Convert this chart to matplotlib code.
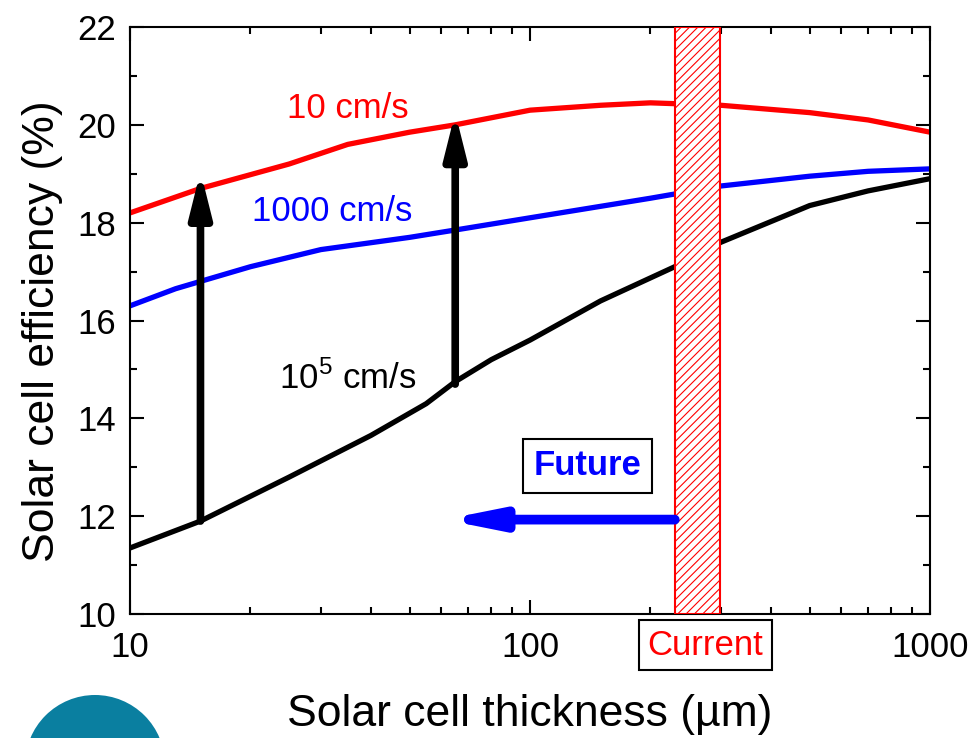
import matplotlib
matplotlib.use("Agg")
import matplotlib.pyplot as plt
from matplotlib.patches import Rectangle, Circle
import numpy as np

plt.rcParams['font.family'] = ['Liberation Sans', 'DejaVu Sans']
plt.rcParams['hatch.linewidth'] = 0.8
plt.rcParams['hatch.color'] = '#ff5050'

# data
thick_red = [10, 15, 25, 35, 50, 65, 100, 150, 200, 300, 500, 700, 1000]
eff_red = [18.2, 18.7, 19.2, 19.6, 19.85, 20.0, 20.3, 20.4, 20.45, 20.4, 20.25, 20.1, 19.85]

thick_blue = [10, 13, 15, 20, 30, 50, 65, 100, 200, 300, 500, 700, 1000]
eff_blue = [16.3, 16.65, 16.8, 17.1, 17.45, 17.7, 17.85, 18.1, 18.5, 18.75, 18.95, 19.05, 19.1]

thick_black = [10, 15, 25, 40, 55, 65, 80, 100, 150, 230, 300, 500, 700, 1000]
eff_black = [11.35, 11.9, 12.8, 13.65, 14.3, 14.75, 15.2, 15.6, 16.4, 17.1, 17.6, 18.35, 18.65, 18.9]

# vertical arrows: (x, y_from, y_to)
up_arrows = [(15, 11.9, 19.05), (65, 14.7, 20.25)]

current_band = (230, 298)
future_arrow = (230, 61, 11.93)  # x_from, x_to, y

fig = plt.figure(figsize=(9.74, 7.38), dpi=100)
ax = fig.add_axes([0.1335, 0.168, 0.8214, 0.7954])

ax.set_xscale('log')
ax.set_xlim(10, 1000)
ax.set_ylim(10, 22)

# current thickness band
ax.add_patch(Rectangle((current_band[0], 10), current_band[1] - current_band[0], 12,
                       facecolor='white', edgecolor='red', hatch='////', lw=1.5, zorder=3))

ax.plot(thick_red, eff_red, color='red', lw=3.8, zorder=2)
ax.plot(thick_blue, eff_blue, color='blue', lw=3.8, zorder=2)
ax.plot(thick_black, eff_black, color='black', lw=3.8, zorder=2)

for x, y0, y1 in up_arrows:
    ax.annotate('', xy=(x, y1), xytext=(x, y0),
                arrowprops=dict(arrowstyle='-|>,head_length=2.6,head_width=0.65',
                                lw=5.5, color='black', shrinkA=0, shrinkB=0), zorder=4)

ax.annotate('', xy=(future_arrow[1], future_arrow[2]), xytext=(future_arrow[0], future_arrow[2]),
            arrowprops=dict(arrowstyle='-|>,head_length=3.0,head_width=0.6',
                            lw=7, color='blue', shrinkA=0, shrinkB=0), zorder=4)

ax.text(35, 20.34, '10 cm/s', color='red', fontsize=25, ha='center', va='center')
ax.text(32, 18.22, '1000 cm/s', color='blue', fontsize=25, ha='center', va='center')
ax.text(35, 14.82, r'10$^{\mathregular{5}}$ cm/s', color='black', fontsize=25, ha='center', va='center')

ax.text(139, 13.03, 'Future', color='blue', fontsize=25, fontweight='bold', ha='center', va='center',
        bbox=dict(boxstyle='square,pad=0.3', fc='white', ec='black', lw=1.5))
ax.text(0.719, -0.053, 'Current', color='red', fontsize=25, ha='center', va='center',
        transform=ax.transAxes,
        bbox=dict(boxstyle='square,pad=0.25', fc='white', ec='black', lw=1.5))

ax.set_yticks([10, 12, 14, 16, 18, 20, 22])
ax.set_yticks(np.arange(11, 22, 2), minor=True)
ax.set_xticks([10, 100, 1000])
ax.set_xticklabels(['10', '100', '1000'])
ax.tick_params(which='both', direction='in', top=True, right=True, width=1.5)
ax.tick_params(which='major', length=10, labelsize=25, pad=10)
ax.tick_params(which='minor', length=5)
ax.tick_params(axis='x', which='major', pad=12)
for s in ax.spines.values():
    s.set_linewidth(1.5)

ax.set_xlabel('Solar cell thickness (\u00b5m)', fontsize=32, labelpad=22)
ax.set_ylabel('Solar cell efficiency (%)', fontsize=32)
ax.yaxis.set_label_coords(-0.084, 0.482)

# logo fragment in the corner
fig.patches.append(Circle((95, -27), 70, transform=None, facecolor='#0a7fa0', edgecolor='none'))

fig.savefig('out.png', dpi=100)
